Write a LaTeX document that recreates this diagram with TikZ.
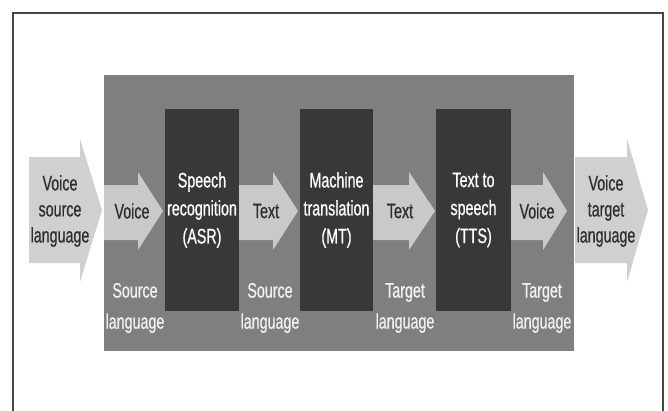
\documentclass[tikz,border=0pt]{standalone}
\usepackage{fontspec}
\setmainfont{Liberation Sans}[FakeStretch=0.68, FakeBold=0.6]
\definecolor{framec}{HTML}{454545}
\definecolor{panel}{HTML}{7F7F7F}
\definecolor{darkbox}{HTML}{383838}
\definecolor{arrowc}{HTML}{C9C9C9}
\definecolor{bigarrowc}{HTML}{D0D0D0}
\definecolor{arrowtext}{HTML}{2E2E2E}
\definecolor{labtext}{HTML}{F2F2F2}
\tikzset{
  arrowtxt/.style={text=arrowtext, align=center, font=\fontsize{21}{26}\selectfont, inner sep=0pt},
  boxtxt/.style={text=white, align=center, font=\fontsize{21}{28}\selectfont, inner sep=0pt},
  labtxt/.style={text=labtext, align=center, font=\fontsize{21}{31}\selectfont, inner sep=0pt},
  stage/.style={fill=darkbox, draw=none}
}
\begin{document}
\begin{tikzpicture}[x=1pt,y=-1pt]
\useasboundingbox (0,0) rectangle (668,410);
\fill[white] (0,0) rectangle (668,410);
% frame
\draw[framec, line width=2.5pt] (13,411) -- (13,13) -- (663,13) -- (663,411);
% panel
\fill[panel] (104,75) rectangle (574,351);
% stage boxes
\fill[stage] (165,109) rectangle (239,311);
\fill[stage] (300,109) rectangle (373,311);
\fill[stage] (436,109) rectangle (511,311);
\node[boxtxt] (asr) at (202,210) {Speech\\recognition\\(ASR)};
\node[boxtxt] (mt) at (336.5,210) {Machine\\translation\\(MT)};
\node[boxtxt] (tts) at (473.5,210) {Text to\\speech\\(TTS)};
% big arrows
\fill[bigarrowc] (29,157) -- (80,157) -- (80,139) -- (102,210) -- (80,282) -- (80,263) -- (29,263) -- cycle;
\fill[bigarrowc] (575,157) -- (627,157) -- (627,139) -- (648,210) -- (627,282) -- (627,263) -- (575,263) -- cycle;
\node[arrowtxt] (vin) at (60,211) {Voice\\source\\language};
\node[arrowtxt] (vout) at (606,211) {Voice\\target\\language};
% small arrows
\fill[arrowc] (104,185) -- (138,185) -- (138,172) -- (163,211) -- (138,250) -- (138,240) -- (104,240) -- cycle;
\fill[arrowc] (239,185) -- (273,185) -- (273,172) -- (298,211) -- (273,250) -- (273,240) -- (239,240) -- cycle;
\fill[arrowc] (373,185) -- (409,185) -- (409,172) -- (435,211) -- (409,250) -- (409,240) -- (373,240) -- cycle;
\fill[arrowc] (511,185) -- (543,185) -- (543,172) -- (567,211) -- (543,250) -- (543,240) -- (511,240) -- cycle;
\node[arrowtxt] (a1) at (132,211) {Voice};
\node[arrowtxt] (a2) at (266,211) {Text};
\node[arrowtxt] (a3) at (400,211) {Text};
\node[arrowtxt] (a4) at (537,211) {Voice};
% labels
\node[labtxt] (l1) at (135,308) {Source\\language};
\node[labtxt] (l2) at (270,308) {Source\\language};
\node[labtxt] (l3) at (405,308) {Target\\language};
\node[labtxt] (l4) at (542,308) {Target\\language};
\end{tikzpicture}
\end{document}
